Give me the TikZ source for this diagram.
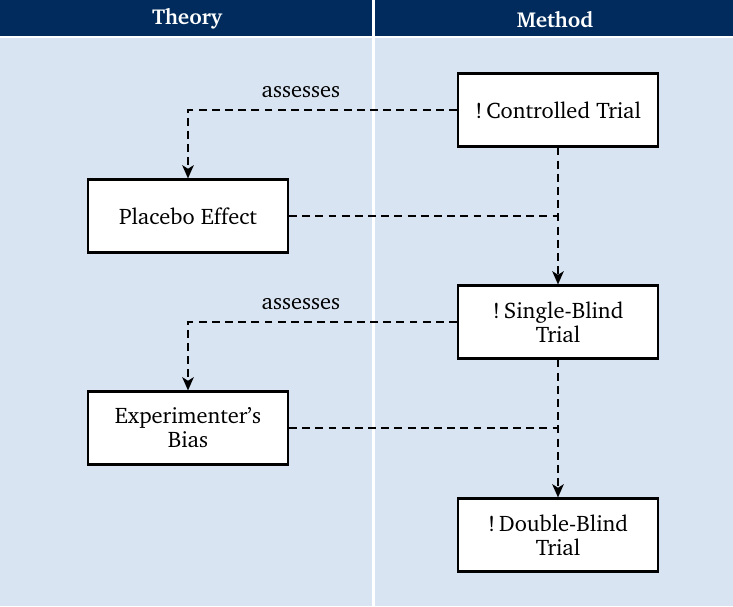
\documentclass[tikz,border=0pt]{standalone}
\usepackage[T1]{fontenc}
\usepackage{charter}
\usetikzlibrary{positioning, arrows.meta}
\definecolor{headblue}{HTML}{002B5C}
\definecolor{laneblue}{HTML}{D9E4F3}
\tikzset{
x=0.02cm, y=-0.02cm, % one unit is one pixel of the sketch
>={Stealth[length=7.5pt,width=6.5pt,inset=2pt]}, % small sharp arrow heads
box/.style={draw, very thick, fill=white, minimum width=200*0.02cm, minimum height=73*0.02cm, align=center, font=\fontsize{12.8}{13.6}\selectfont}, % the boxes
link/.style={line width=1.3pt, dash pattern=on 4.5pt off 3pt}, % dashed connectors
head/.style={text=white, font=\bfseries\fontsize{12.3}{14}\selectfont}, % lane titles
lbl/.style={above=3pt, font=\fontsize{12.8}{15}\selectfont}, % edge labels
}

\begin{document}
\begin{tikzpicture}
    \useasboundingbox (0,0) rectangle (733,606);
    % lanes
    \fill[white] (0,0) rectangle (733,606);
    \fill[headblue] (0,0) rectangle (372,36);
    \fill[headblue] (375,0) rectangle (733,36);
    \fill[laneblue] (0,38) rectangle (372,606);
    \fill[laneblue] (375,38) rectangle (733,606);
    \node[head] (theory) at (187,19) {Theory};
    \node[head] (method) at (555,19) {Method};

    \node[box] (ct) at (558,110) {!\,Controlled Trial};
    \node[box] (pe) at (188,216) {Placebo Effect};
    \node[box] (sb) at (558,322) {!\,Single-Blind\\Trial};
    \node[box] (eb) at (188,428) {Experimenter's\\Bias};
    \node[box] (db) at (558,535) {!\,Double-Blind\\Trial};

    \coordinate (m1) at (pe.east -| ct.south);
    \coordinate (m2) at (eb.east -| sb.south);

    \draw[link, ->] (ct.west) -- (ct.west -| pe.north) node[pos=0.58, lbl] {assesses} -- (pe.north);
    \draw[link, ->] (ct.south) -- (sb.north);
    \draw[link] (pe.east) -- (m1);
    \draw[link, ->] (sb.west) -- (sb.west -| eb.north) node[pos=0.58, lbl] {assesses} -- (eb.north);
    \draw[link, ->] (sb.south) -- (db.north);
    \draw[link] (eb.east) -- (m2);
  \end{tikzpicture}
\end{document}
